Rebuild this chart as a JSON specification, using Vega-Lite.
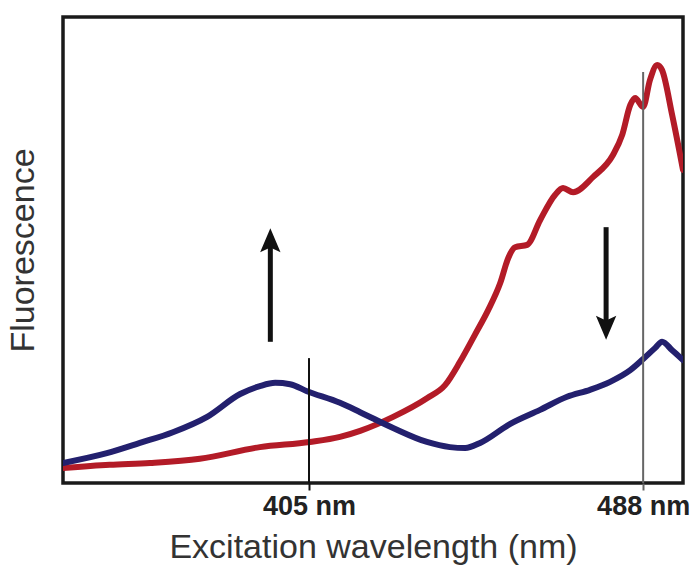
{
  "$schema": "https://vega.github.io/schema/vega-lite/v6.json",
  "width": 620,
  "height": 466,
  "autosize": "none",
  "padding": {"left": 63, "top": 17, "right": 13, "bottom": 93},
  "config": {
    "view": {"stroke": "#1a1a1a", "strokeWidth": 3.5},
    "font": "Liberation Sans"
  },
  "datasets": {
    "curves": [
      {"wl": 343.9, "f": 3.2, "series": "red"},
      {"wl": 355.5, "f": 3.9, "series": "red"},
      {"wl": 365.5, "f": 4.3, "series": "red"},
      {"wl": 377.9, "f": 5.2, "series": "red"},
      {"wl": 392.8, "f": 7.7, "series": "red"},
      {"wl": 405.2, "f": 8.8, "series": "red"},
      {"wl": 412.7, "f": 9.9, "series": "red"},
      {"wl": 417.7, "f": 11.2, "series": "red"},
      {"wl": 425.9, "f": 14.2, "series": "red"},
      {"wl": 434.3, "f": 18.2, "series": "red"},
      {"wl": 438.8, "f": 21.0, "series": "red"},
      {"wl": 442.5, "f": 26.0, "series": "red"},
      {"wl": 446.2, "f": 31.8, "series": "red"},
      {"wl": 449.5, "f": 37.1, "series": "red"},
      {"wl": 452.5, "f": 42.9, "series": "red"},
      {"wl": 454.5, "f": 48.3, "series": "red"},
      {"wl": 456.2, "f": 50.6, "series": "red"},
      {"wl": 459.2, "f": 51.1, "series": "red"},
      {"wl": 462.4, "f": 56.4, "series": "red"},
      {"wl": 466.1, "f": 61.8, "series": "red"},
      {"wl": 468.1, "f": 63.3, "series": "red"},
      {"wl": 470.6, "f": 62.4, "series": "red"},
      {"wl": 475.6, "f": 65.7, "series": "red"},
      {"wl": 480.5, "f": 70.4, "series": "red"},
      {"wl": 482.8, "f": 74.7, "series": "red"},
      {"wl": 484.8, "f": 81.1, "series": "red"},
      {"wl": 486.0, "f": 82.6, "series": "red"},
      {"wl": 488.0, "f": 80.7, "series": "red"},
      {"wl": 489.7, "f": 86.5, "series": "red"},
      {"wl": 491.5, "f": 89.7, "series": "red"},
      {"wl": 492.7, "f": 88.6, "series": "red"},
      {"wl": 495.2, "f": 79.0, "series": "red"},
      {"wl": 497.9, "f": 67.2, "series": "red"},
      {"wl": 343.9, "f": 4.3, "series": "blue"},
      {"wl": 354.8, "f": 6.4, "series": "blue"},
      {"wl": 363.0, "f": 8.6, "series": "blue"},
      {"wl": 371.2, "f": 10.9, "series": "blue"},
      {"wl": 379.7, "f": 14.2, "series": "blue"},
      {"wl": 387.9, "f": 19.1, "series": "blue"},
      {"wl": 392.8, "f": 20.8, "series": "blue"},
      {"wl": 396.6, "f": 21.5, "series": "blue"},
      {"wl": 400.3, "f": 21.2, "series": "blue"},
      {"wl": 404.5, "f": 19.7, "series": "blue"},
      {"wl": 412.7, "f": 17.2, "series": "blue"},
      {"wl": 417.7, "f": 15.2, "series": "blue"},
      {"wl": 425.9, "f": 11.8, "series": "blue"},
      {"wl": 434.3, "f": 8.8, "series": "blue"},
      {"wl": 440.0, "f": 7.7, "series": "blue"},
      {"wl": 443.8, "f": 7.5, "series": "blue"},
      {"wl": 447.5, "f": 8.6, "series": "blue"},
      {"wl": 455.0, "f": 12.7, "series": "blue"},
      {"wl": 462.4, "f": 15.7, "series": "blue"},
      {"wl": 469.1, "f": 18.5, "series": "blue"},
      {"wl": 474.8, "f": 20.0, "series": "blue"},
      {"wl": 479.8, "f": 21.7, "series": "blue"},
      {"wl": 484.8, "f": 24.2, "series": "blue"},
      {"wl": 488.0, "f": 26.6, "series": "blue"},
      {"wl": 491.0, "f": 29.0, "series": "blue"},
      {"wl": 492.7, "f": 30.3, "series": "blue"},
      {"wl": 495.2, "f": 28.5, "series": "blue"},
      {"wl": 497.9, "f": 26.4, "series": "blue"}
    ],
    "rule405": [
      {"wl": 405, "lo": 0, "hi": 26.8}
    ],
    "rule488": [
      {"wl": 488, "lo": 0, "hi": 88.2}
    ],
    "shafts": [
      {"wl": 395.4, "lo": 30.3, "hi": 51.5},
      {"wl": 478.8, "lo": 32.5, "hi": 54.9}
    ],
    "heads": [
      {"wl": 395.4, "f": 52.1, "dir": "up"},
      {"wl": 478.8, "f": 33.3, "dir": "down"}
    ]
  },
  "layer": [
    {
      "data": {"name": "curves"},
      "mark": {"type": "line", "strokeWidth": 6, "interpolate": "monotone", "strokeCap": "round", "clip": true},
      "encoding": {
        "x": {
          "field": "wl", "type": "quantitative",
          "scale": {"domain": [343.9, 497.9], "nice": false, "zero": false},
          "axis": {
            "values": [405, 488],
            "labelExpr": "datum.value + ' nm'",
            "labelFont": "Liberation Sans",
            "labelFontSize": 27,
            "labelFontWeight": "bold",
            "labelColor": "#222",
            "labelPadding": 3,
            "tickSize": 7,
            "tickWidth": 2,
            "tickColor": {"condition": {"test": "datum.value == 488", "value": "#666"}, "value": "#111"},
            "domain": false,
            "grid": false,
            "title": "Excitation wavelength (nm)",
            "titleFont": "Liberation Sans",
            "titleFontSize": 34,
            "titleFontWeight": "normal",
            "titleColor": "#333",
            "titlePadding": 11
          }
        },
        "y": {
          "field": "f", "type": "quantitative",
          "scale": {"domain": [0, 100], "nice": false},
          "axis": {
            "labels": false, "ticks": false, "domain": false, "grid": false,
            "title": "Fluorescence",
            "titleFont": "Liberation Sans",
            "titleFontSize": 34,
            "titleFontWeight": "normal",
            "titleColor": "#333",
            "titlePadding": 23
          }
        },
        "color": {
          "field": "series", "type": "nominal",
          "scale": {"domain": ["red", "blue"], "range": ["#b31b27", "#23206e"]},
          "legend": null
        },
        "detail": {"field": "series"}
      }
    },
    {
      "data": {"name": "rule405"},
      "mark": {"type": "rule", "strokeWidth": 2, "color": "#111111"},
      "encoding": {
        "x": {"field": "wl", "type": "quantitative"},
        "y": {"field": "lo", "type": "quantitative"},
        "y2": {"field": "hi"}
      }
    },
    {
      "data": {"name": "rule488"},
      "mark": {"type": "rule", "strokeWidth": 2, "color": "#666666"},
      "encoding": {
        "x": {"field": "wl", "type": "quantitative"},
        "y": {"field": "lo", "type": "quantitative"},
        "y2": {"field": "hi"}
      }
    },
    {
      "data": {"name": "shafts"},
      "mark": {"type": "rule", "strokeWidth": 5, "color": "#111"},
      "encoding": {
        "x": {"field": "wl", "type": "quantitative"},
        "y": {"field": "lo", "type": "quantitative"},
        "y2": {"field": "hi"}
      }
    },
    {
      "data": {"name": "heads"},
      "mark": {"type": "point", "filled": true, "opacity": 1, "color": "#111", "size": 576},
      "encoding": {
        "x": {"field": "wl", "type": "quantitative"},
        "y": {"field": "f", "type": "quantitative"},
        "shape": {
          "field": "dir", "type": "nominal",
          "scale": {"domain": ["up", "down"], "range": ["M-0.85,1 L0,-1 L0.85,1 L0,0.6 Z", "M-0.85,-1 L0,1 L0.85,-1 L0,-0.6 Z"]},
          "legend": null
        }
      }
    }
  ]
}
